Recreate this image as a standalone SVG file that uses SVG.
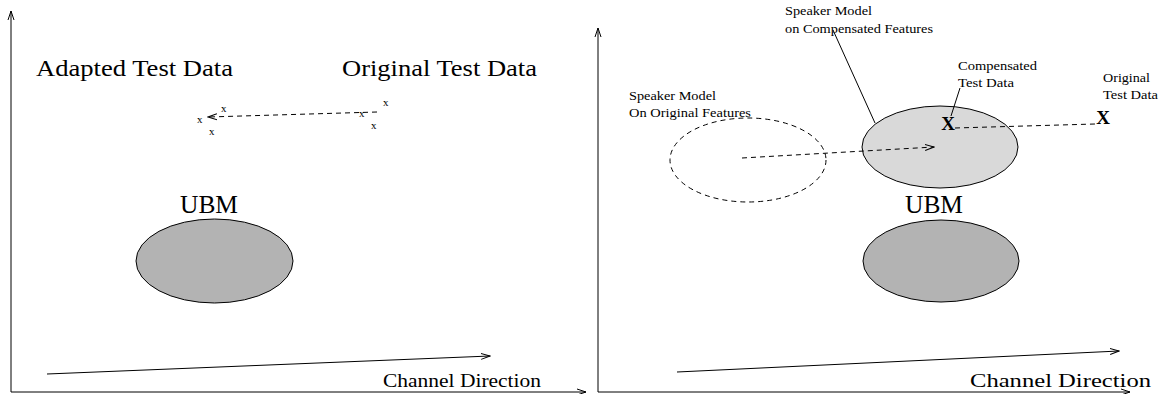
<svg xmlns="http://www.w3.org/2000/svg" width="1164" height="394" viewBox="0 0 1164 394">
<style>
.ax{stroke:#000;stroke-width:1;fill:none}
.dash{stroke:#000;stroke-width:1;fill:none;stroke-dasharray:5,4}
.t{font-family:"Liberation Serif","Times New Roman",serif;fill:#000}
.big{font-size:23px}
.med{font-size:19px}
.sm{font-size:12.5px}
.xs{font-size:11px}
.bx{font-size:19px;font-weight:bold}
.ubm{fill:#b3b3b3;stroke:#000;stroke-width:1}
.spk{fill:#d9d9d9;stroke:#000;stroke-width:1}
</style>
<defs>
<marker id="ah" markerWidth="10" markerHeight="8" refX="9" refY="4" orient="auto" markerUnits="userSpaceOnUse">
<path d="M0,1 L9,4 L0,7" fill="none" stroke="#000" stroke-width="1"/>
</marker>
</defs>
<rect width="1164" height="394" fill="#fff"/>

<g id="left-axes">
<line class="ax" x1="11" y1="392" x2="11" y2="11" marker-end="url(#ah)"/>
<line class="ax" x1="11" y1="392" x2="586" y2="392" marker-end="url(#ah)"/>
</g>
<g id="right-axes">
<line class="ax" x1="598" y1="392" x2="598" y2="28" marker-end="url(#ah)"/>
<line class="ax" x1="598" y1="392" x2="1130" y2="392" marker-end="url(#ah)"/>
</g>

<g id="left-labels">
<text class="t big" x="36" y="76" textLength="197" lengthAdjust="spacingAndGlyphs">Adapted Test Data</text>
<text class="t big" x="342" y="76" textLength="195" lengthAdjust="spacingAndGlyphs">Original Test Data</text>
<text class="t xs" x="197" y="123">x</text>
<text class="t xs" x="221" y="112">x</text>
<text class="t xs" x="209" y="135">x</text>
<text class="t xs" x="359" y="117">x</text>
<text class="t xs" x="383" y="106">x</text>
<text class="t xs" x="371" y="129">x</text>
</g>

<g id="left-ubm">
<text class="t" x="180" y="213" font-size="25" textLength="58" lengthAdjust="spacingAndGlyphs">UBM</text>
<ellipse class="ubm" cx="214.5" cy="261" rx="78.5" ry="42"/>
</g>

<g id="speaker-original">
<ellipse class="dash" cx="748" cy="160" rx="78" ry="42"/>
<text class="t sm" x="629" y="100" textLength="87" lengthAdjust="spacingAndGlyphs">Speaker Model</text>
<text class="t sm" x="629" y="117" textLength="122" lengthAdjust="spacingAndGlyphs">On Original Features</text>
</g>

<g id="speaker-compensated">
<ellipse class="spk" cx="940" cy="147" rx="78" ry="41"/>
<text class="t sm" x="785" y="15" textLength="87" lengthAdjust="spacingAndGlyphs">Speaker Model</text>
<text class="t sm" x="785" y="33" textLength="148" lengthAdjust="spacingAndGlyphs">on Compensated Features</text>
</g>

<g id="compensated-data">
<text class="t bx" x="948" y="130" text-anchor="middle">X</text>
<text class="t sm" x="958" y="70" textLength="79" lengthAdjust="spacingAndGlyphs">Compensated</text>
<text class="t sm" x="958" y="87" textLength="56" lengthAdjust="spacingAndGlyphs">Test Data</text>
</g>

<g id="original-data">
<text class="t bx" x="1103" y="124" text-anchor="middle">X</text>
<text class="t sm" x="1103" y="82" textLength="47" lengthAdjust="spacingAndGlyphs">Original</text>
<text class="t sm" x="1103" y="99" textLength="55" lengthAdjust="spacingAndGlyphs">Test Data</text>
</g>

<g id="right-ubm">
<text class="t" x="905" y="213" font-size="25" textLength="58" lengthAdjust="spacingAndGlyphs">UBM</text>
<ellipse class="ubm" cx="941" cy="261" rx="78" ry="41"/>
</g>

<g id="axis-labels">
<text class="t med" x="383" y="387" textLength="158" lengthAdjust="spacingAndGlyphs">Channel Direction</text>
<text class="t med" x="970" y="387" textLength="181" lengthAdjust="spacingAndGlyphs">Channel Direction</text>
</g>

<g id="connectors">
<line class="ax" x1="47" y1="374" x2="490" y2="356" marker-end="url(#ah)"/>
<line class="ax" x1="677" y1="372" x2="1119" y2="351" marker-end="url(#ah)"/>
<line class="dash" x1="377" y1="112" x2="208" y2="117" marker-end="url(#ah)"/>
<line class="dash" x1="742" y1="158" x2="934" y2="147" marker-end="url(#ah)"/>
<line class="dash" x1="955" y1="128" x2="1095" y2="124"/>
<line class="ax" x1="833" y1="30" x2="875" y2="123"/>
<line class="ax" x1="960" y1="88" x2="951" y2="116"/>
</g>
</svg>
